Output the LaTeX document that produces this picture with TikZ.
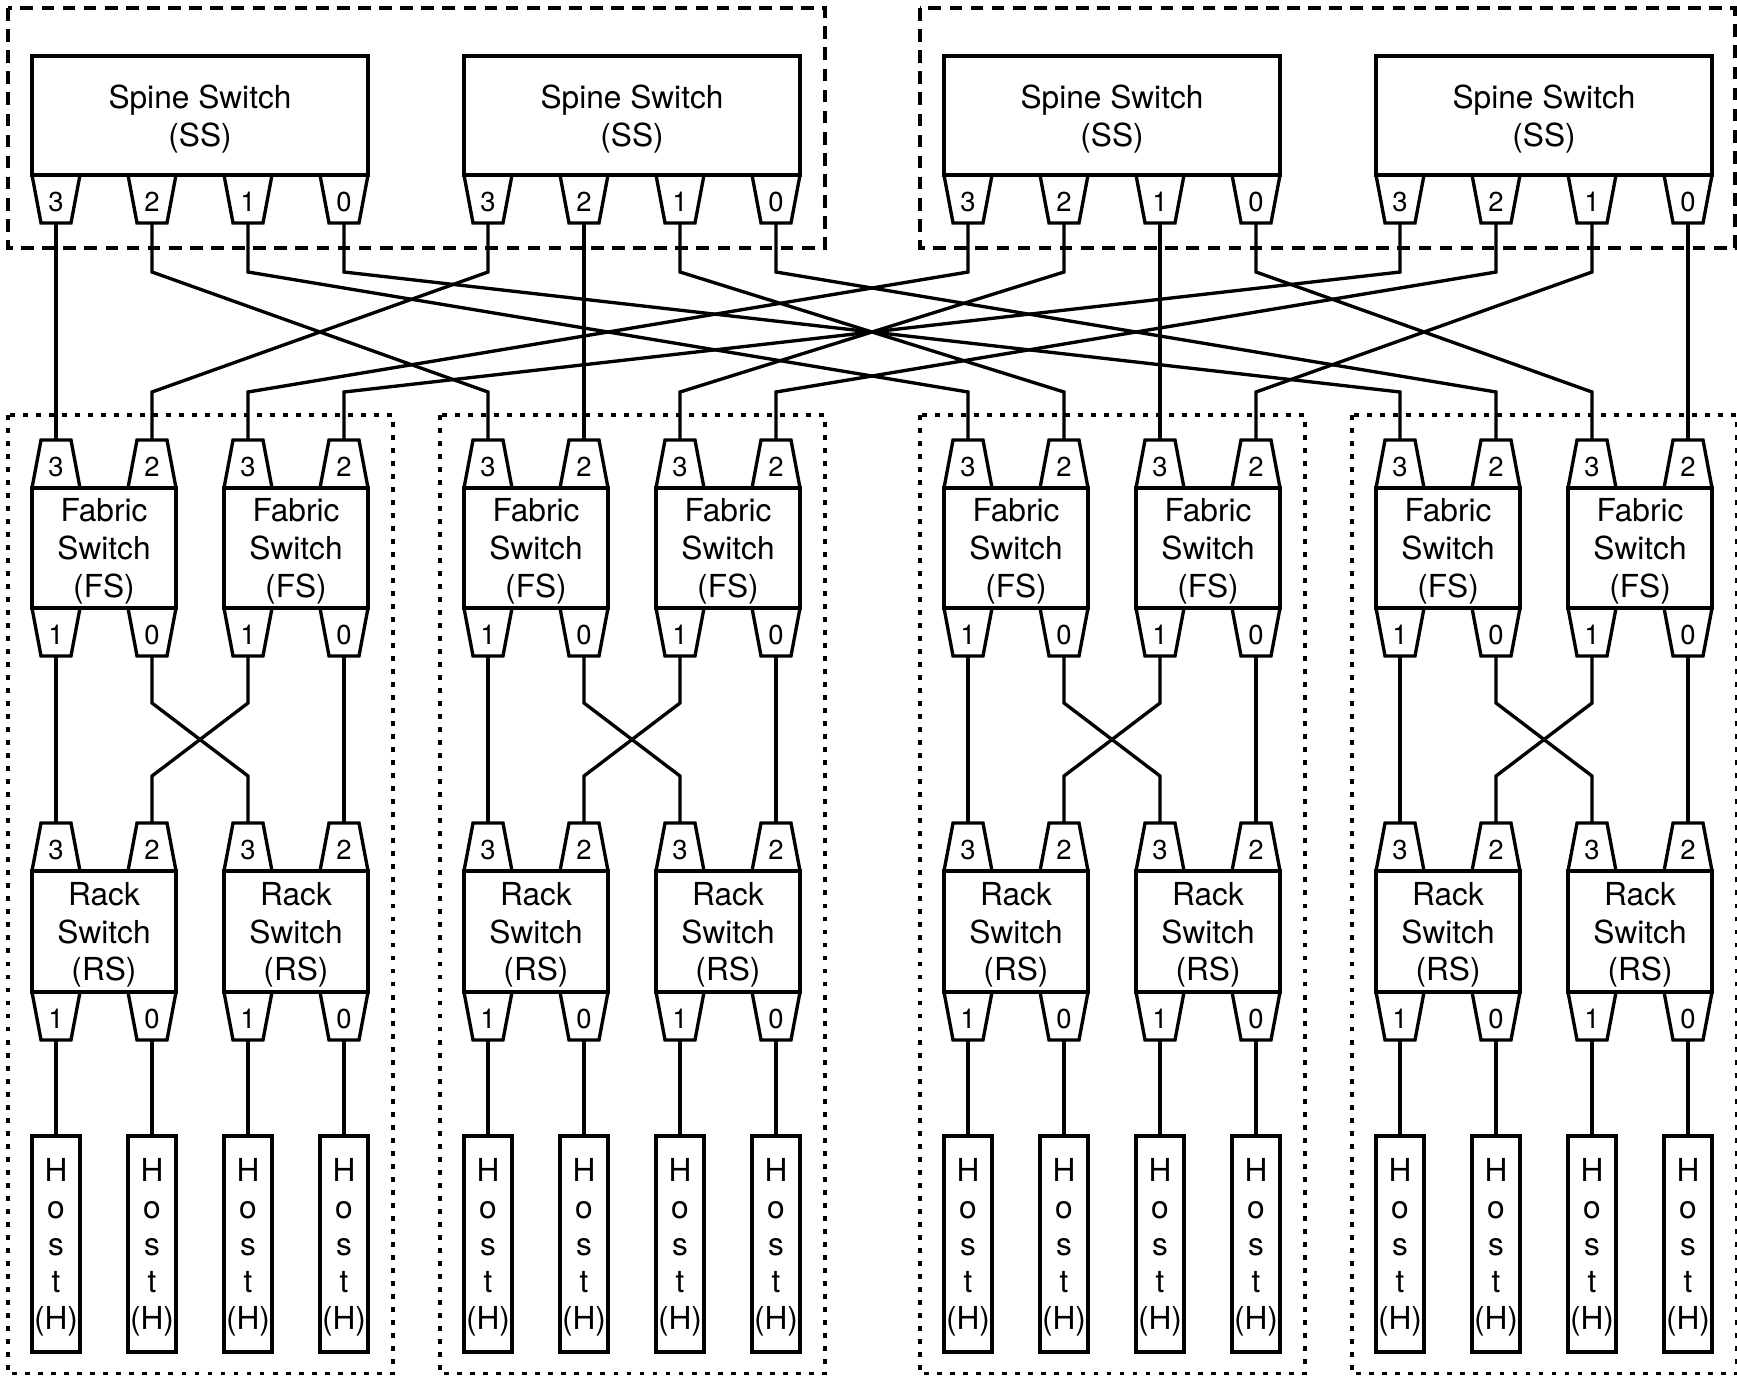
\documentclass[tikz,border=0pt]{standalone}
\usepackage{fontspec}
\setmainfont{TeX Gyre Heros}
\usetikzlibrary{shapes.geometric,calc}

\begin{document}
\begin{tikzpicture}[
  x=0.01cm, y=-0.01cm,
  line width=.95pt,
  font=\fontsize{9pt}{10.7pt}\selectfont,
  spine/.style={
    draw, rectangle,
    minimum width=3.36cm, minimum height=1.19cm,
    inner sep=0pt, outer sep=0pt,
    text depth=0pt, align=center
  },
  fabric/.style={
    draw, rectangle,
    minimum width=1.44cm, minimum height=1.2cm,
    inner sep=0pt, outer sep=0pt,
    text depth=0pt, align=center
  },
  rack/.style={fabric, minimum height=1.21cm},
  host/.style={
    draw, rectangle,
    minimum width=.48cm, minimum height=2.16cm,
    inner sep=0pt, outer sep=0pt,
    text depth=0pt, align=center,
    font=\fontsize{9pt}{10.5pt}\selectfont
  },
  portup/.style={
    draw, trapezium,
    trapezium angle=79.4, trapezium stretches=true,
    minimum width=.48cm, minimum height=.48cm,
    inner sep=0pt, outer sep=0pt,
    text height=7pt, text depth=0pt,
    font=\fontsize{7.8pt}{8pt}\selectfont
  },
  portdown/.style={portup, shape border rotate=180},
  plane/.style={draw, dash pattern=on 3.6pt off 2.4pt},
  pod/.style={draw, dash pattern=on 1.4pt off 2.3pt},
  wire/.style={draw, line join=miter}
]
\useasboundingbox (0,0) rectangle (1737,1375);

% spine planes and pods
\draw[plane] (8,8) rectangle (825,248);
\draw[plane] (920,8) rectangle (1735,248);
\foreach \gx in {32,464,944,1376}{
  \draw[pod] (\gx-24,415) rectangle (\gx+361,1373.5);
}

% spine switches
\foreach \s/\gx in {1/32,2/464,3/944,4/1376}{
  \node[spine] (ss\s) at (\gx+168,115.5) {Spine Switch\\(SS)};
  \foreach \p in {0,...,3}{
    \node[portdown] (ss\s-\p) at ({\gx+24+96*(3-\p)},199) {\p};
  }
}

% fabric switches, rack switches, hosts
\foreach \f/\fx in {1/32,2/224,3/464,4/656,5/944,6/1136,7/1376,8/1568}{
  \node[fabric] (fs\f) at (\fx+72,548) {Fabric\\Switch\\(FS)};
  \node[portup] (fs\f-3) at (\fx+24,464) {3};
  \node[portup] (fs\f-2) at (\fx+120,464) {2};
  \node[portdown] (fs\f-1) at (\fx+24,632) {1};
  \node[portdown] (fs\f-0) at (\fx+120,632) {0};

  \node[rack] (rs\f) at (\fx+72,931.5) {Rack\\Switch\\(RS)};
  \node[portup] (rs\f-3) at (\fx+24,847) {3};
  \node[portup] (rs\f-2) at (\fx+120,847) {2};
  \node[portdown] (rs\f-1) at (\fx+24,1016) {1};
  \node[portdown] (rs\f-0) at (\fx+120,1016) {0};

  \node[host] (h\f-1) at (\fx+24,1244) {H\\o\\s\\t\\(H)};
  \node[host] (h\f-0) at (\fx+120,1244) {H\\o\\s\\t\\(H)};
  \draw[wire] (rs\f-1.top side) -- (h\f-1.north);
  \draw[wire] (rs\f-0.top side) -- (h\f-0.north);
}

% spine to fabric
\coordinate (upbend) at (0,272);
\coordinate (lowbend) at (0,392);
\foreach \s in {1,...,4}{
  \foreach \p in {0,...,3}{
    \pgfmathtruncatemacro{\f}{2*(3-\p)+int((\s+1)/2)}
    \pgfmathtruncatemacro{\q}{3-mod(\s+1,2)}
    \draw[wire] (ss\s-\p.top side) -- (ss\s-\p.top side|-upbend)
      -- (fs\f-\q.top side|-lowbend) -- (fs\f-\q.top side);
  }
}

% fabric to rack
\coordinate (crossa) at (0,703);
\coordinate (crossb) at (0,776);
\foreach \f in {1,...,8}{
  \pgfmathtruncatemacro{\j}{mod(\f+1,2)}
  \pgfmathtruncatemacro{\ra}{\f-\j}
  \pgfmathtruncatemacro{\rb}{\f-\j+1}
  \pgfmathtruncatemacro{\q}{3-\j}
  \draw[wire] (fs\f-1.top side) -- (fs\f-1.top side|-crossa)
    -- (rs\ra-\q.top side|-crossb) -- (rs\ra-\q.top side);
  \draw[wire] (fs\f-0.top side) -- (fs\f-0.top side|-crossa)
    -- (rs\rb-\q.top side|-crossb) -- (rs\rb-\q.top side);
}
\end{tikzpicture}
\end{document}
